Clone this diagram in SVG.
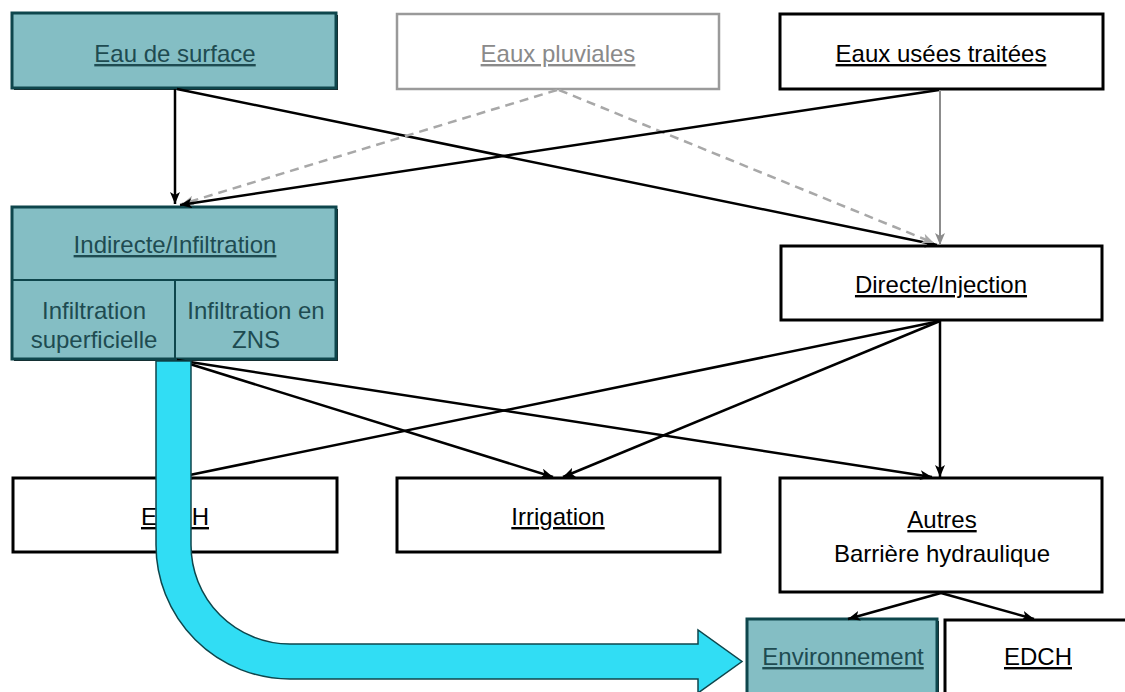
<svg xmlns="http://www.w3.org/2000/svg" width="1125" height="692" viewBox="0 0 1125 692">
<style>
text{font-family:"Liberation Sans",Arial,sans-serif;font-size:24px;text-anchor:middle}
.u{text-decoration:underline}
.teal{fill:#84BEC4;stroke:#0E464C;stroke-width:3}
.shadow{fill:#1a1a1a}
.tt{fill:#1E4B51}
.wb{fill:#fff;stroke:#000;stroke-width:3}
.gb{fill:#fff;stroke:#9a9a9a;stroke-width:2.5}
.c{fill:none;stroke:#000;stroke-width:2.5}
.cg{fill:none;stroke:#8c8c8c;stroke-width:2}
.cd{fill:none;stroke:#a8a8a8;stroke-width:2.5;stroke-dasharray:9 6}
</style>
<defs>
<marker id="ah" viewBox="0 0 12 10" refX="12" refY="5" markerWidth="12" markerHeight="10" markerUnits="userSpaceOnUse" orient="auto">
<path d="M0,0 L12,5 L0,10 L3,5 Z" fill="#000"/>
</marker>
<marker id="ahg" viewBox="0 0 12 10" refX="12" refY="5" markerWidth="12" markerHeight="10" markerUnits="userSpaceOnUse" orient="auto">
<path d="M0,0 L12,5 L0,10 L3,5 Z" fill="#8c8c8c"/>
</marker>
<marker id="ahd" viewBox="0 0 12 10" refX="12" refY="5" markerWidth="12" markerHeight="10" markerUnits="userSpaceOnUse" orient="auto">
<path d="M0,0 L12,5 L0,10 L3,5 Z" fill="#a8a8a8"/>
</marker>
</defs>

<g id="eau-surface">
<rect class="shadow" x="14" y="15" width="324" height="75"/>
<rect class="teal" x="12" y="13" width="324" height="75"/>
<text class="u tt" x="175" y="62">Eau de surface</text>
</g>
<g id="eaux-pluviales">
<rect class="gb" x="397" y="14" width="322" height="75"/>
<text class="u" x="558" y="62" fill="#8a8a8a">Eaux pluviales</text>
</g>
<g id="eaux-usees">
<rect class="wb" x="780" y="14" width="323" height="75"/>
<text class="u" x="941" y="62">Eaux usées traitées</text>
</g>

<g id="indirecte">
<rect class="shadow" x="14" y="209" width="324" height="152"/>
<rect class="teal" x="12" y="207" width="324" height="152"/>
<line x1="12" y1="280" x2="336" y2="280" stroke="#0E464C" stroke-width="2"/>
<line x1="175" y1="280" x2="175" y2="359" stroke="#0E464C" stroke-width="2"/>
<text class="u tt" x="175" y="253">Indirecte/Infiltration</text>
<text class="tt" x="94" y="319">Infiltration</text>
<text class="tt" x="94" y="348">superficielle</text>
<text class="tt" x="256" y="319">Infiltration en</text>
<text class="tt" x="256" y="348">ZNS</text>
</g>

<g id="directe">
<rect class="wb" x="781" y="246" width="321" height="74"/>
<text class="u" x="941" y="293">Directe/Injection</text>
</g>

<g id="edch-1">
<rect class="wb" x="13" y="478" width="324" height="74"/>
<text class="u" x="175" y="525">EDCH</text>
</g>
<g id="irrigation">
<rect class="wb" x="397" y="478" width="323" height="74"/>
<text class="u" x="558" y="525">Irrigation</text>
</g>
<g id="autres">
<rect class="wb" x="780" y="478" width="322" height="114"/>
<text class="u" x="942" y="528">Autres</text>
<text x="942" y="562">Barrière hydraulique</text>
</g>
<g id="environnement">
<rect class="shadow" x="749" y="621" width="190" height="80"/>
<rect class="teal" x="747" y="619" width="190" height="80"/>
<text class="u tt" x="843" y="665">Environnement</text>
</g>
<g id="edch-2">
<rect class="wb" x="945" y="620" width="200" height="80"/>
<text class="u" x="1038" y="665">EDCH</text>
</g>

<g id="connectors">
<line class="c" x1="175" y1="89" x2="175" y2="204" marker-end="url(#ah)"/>
<line class="c" x1="177" y1="89" x2="937" y2="245" marker-end="url(#ah)"/>
<line class="cd" x1="557" y1="90" x2="182" y2="204" marker-end="url(#ahd)"/>
<line class="cd" x1="559" y1="90" x2="934" y2="243" marker-end="url(#ahd)"/>
<line class="c" x1="939" y1="90" x2="180" y2="205" marker-end="url(#ah)"/>
<line class="cg" x1="940" y1="90" x2="940" y2="245" marker-end="url(#ahg)"/>
<line class="c" x1="177" y1="360" x2="553" y2="477" marker-end="url(#ah)"/>
<line class="c" x1="177" y1="360" x2="932" y2="477" marker-end="url(#ah)"/>
<line class="c" x1="940" y1="321" x2="180" y2="477" marker-end="url(#ah)"/>
<line class="c" x1="940" y1="321" x2="563" y2="477" marker-end="url(#ah)"/>
<line class="c" x1="940" y1="321" x2="940" y2="477" marker-end="url(#ah)"/>
<line class="c" x1="941" y1="593" x2="848" y2="619" marker-end="url(#ah)"/>
<line class="c" x1="941" y1="593" x2="1034" y2="619" marker-end="url(#ah)"/>
</g>

<g id="big-arrow">
<path d="M156,361 L156,545 A134,134 0 0 0 290,679 L698,679 L698,693 L742,661.5 L698,630 L698,644 L290,644 A99,99 0 0 1 191,545 L191,361 Z" fill="#31DDF4" stroke="#0E464C" stroke-width="1.5"/>
</g>
</svg>
